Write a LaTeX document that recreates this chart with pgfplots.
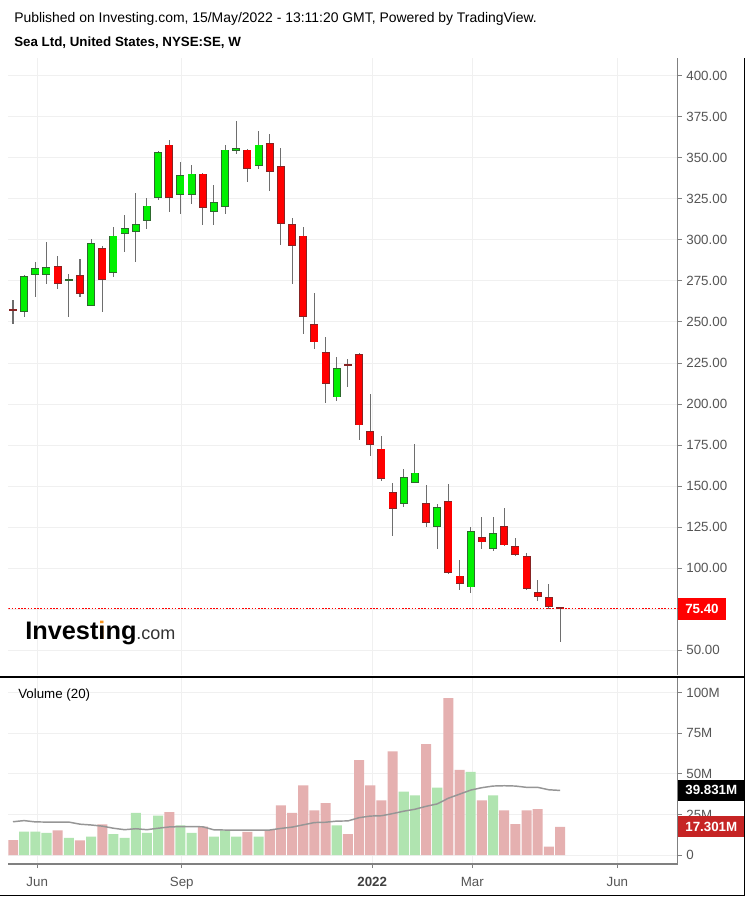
\documentclass[border=0pt]{standalone}
\usepackage{pgfplots}
\pgfplotsset{compat=1.18}
\usepackage{pgfplotstable}
\usepackage{fontspec}
\setmainfont{Liberation Sans}

\definecolor{gridc}{RGB}{240,240,240}
\definecolor{axc}{RGB}{128,128,128}
\definecolor{labc}{RGB}{85,85,85}
\definecolor{upfill}{RGB}{0,240,0}
\definecolor{upline}{RGB}{45,105,45}
\definecolor{dnfill}{RGB}{255,0,0}
\definecolor{dnline}{RGB}{135,35,35}
\definecolor{wick}{RGB}{110,110,110}
\definecolor{volup}{RGB}{176,228,176}
\definecolor{voldn}{RGB}{229,176,176}
\definecolor{mac}{RGB}{150,150,150}
\definecolor{lastred}{RGB}{198,36,36}
\definecolor{logoor}{RGB}{247,148,29}

% weekly candles: index, open, high, low, close, volume (M), volume MA(20) (M)
\pgfplotstableread{
x o h l c v ma
0 257.5 263.5 248.9 257.0 9.2 20.5
1 256.0 278.3 253.3 277.7 14.4 21.2
2 278.7 286.8 265.0 282.8 14.4 20.4
3 278.7 298.4 273.2 283.6 13.6 20.3
4 284.2 289.9 270.2 273.4 15.2 20.3
5 275.5 279.1 253.3 275.9 10.5 20.3
6 278.3 288.4 265.1 267.3 9.0 19.0
7 259.8 300.4 259.8 298.0 11.3 18.5
8 294.9 296.0 255.8 275.7 18.9 17.8
9 279.7 308.1 277.1 302.6 12.9 16.5
10 303.4 315.2 292.9 307.1 10.5 15.6
11 304.9 328.4 286.4 309.5 25.9 16.2
12 311.6 325.4 306.5 320.9 13.6 15.6
13 325.4 354.4 324.3 353.3 24.2 16.5
14 358.0 360.9 317.2 325.4 26.5 17.3
15 327.6 347.7 315.8 339.6 18.3 17.5
16 327.6 345.4 321.9 340.4 13.6 17.5
17 340.4 340.6 309.1 319.3 17.5 17.4
18 317.0 333.5 309.1 322.9 11.3 15.5
19 320.1 357.6 315.8 355.0 15.2 15.4
20 354.4 372.6 352.3 355.8 11.3 15.4
21 355.0 355.2 335.5 343.4 14.2 15.4
22 344.8 366.5 343.0 358.0 11.3 15.4
23 358.8 364.5 330.0 341.2 15.4 15.4
24 345.0 355.8 296.6 309.7 30.6 16.4
25 309.5 313.2 273.2 296.1 25.9 17.2
26 302.6 308.1 242.8 252.9 42.9 18.6
27 248.7 267.5 233.5 237.5 27.5 20.0
28 231.7 241.0 200.9 212.2 32.0 20.2
29 204.1 228.8 202.1 221.8 18.3 20.9
30 224.0 227.3 210.7 223.3 12.9 21.0
31 230.5 231.1 178.1 187.0 58.4 23.0
32 183.4 206.4 168.4 174.9 42.9 24.0
33 172.9 180.6 153.3 154.3 33.7 24.2
34 146.2 151.9 119.9 136.1 63.9 25.5
35 139.1 160.4 137.5 155.3 39.0 27.0
36 151.9 175.5 151.9 158.3 36.8 28.2
37 139.5 150.7 125.4 127.8 68.4 30.0
38 125.4 139.1 111.5 137.1 41.5 31.5
39 141.0 151.3 96.3 97.1 96.7 35.0
40 95.5 105.2 86.6 90.7 52.4 37.5
41 88.4 125.4 85.0 122.8 51.3 40.0
42 118.9 131.5 111.5 115.7 33.7 41.5
43 111.9 131.5 110.3 121.6 36.8 42.5
44 125.8 136.7 113.3 113.9 27.5 42.7
45 113.7 118.5 107.4 108.2 19.1 42.5
46 107.6 109.4 87.2 87.6 27.5 41.7
47 85.6 92.9 80.0 82.4 28.3 41.7
48 82.6 90.5 74.9 76.5 5.1 40.2
49 76.3 76.5 54.9 75.4 17.3 39.8
}\sedata

\pgfplotsset{
  chartbase/.style={
    scale only axis, width=502.05pt,
    xmin=-0.42, xmax=59.54,
    xtick={2.17,15.12,32.18,41.14,54.14},
    grid=major, grid style={draw=gridc, line width=0.75pt},
    axis x line*=bottom, axis y line*=right,
    axis line style={draw=axc, line width=0.9pt},
    tick align=outside, major tick length=3pt,
    tick style={draw=axc, line width=0.75pt},
    ticklabel style={font=\fontsize{10}{12}\selectfont, text=labc},
    /pgf/number format/assume math mode=true,
    clip mode=individual,
  },
  /pgfplots/table/upx/.style={x expr={\thisrow{c}>=\thisrow{o} ? \thisrow{x} : -100}},
  /pgfplots/table/dnx/.style={x expr={\thisrow{c}<\thisrow{o} ? \thisrow{x} : -100}},
}

\begin{document}
\begin{tikzpicture}
\path[use as bounding box, fill=white] (0,0) rectangle (564pt,-675.75pt);

\node[anchor=base west, inner sep=0pt] at (10.5pt,-16.5pt)
  {\fontsize{10.45}{12}\selectfont Published on Investing.com, 15/May/2022 - 13:11:20 GMT, Powered by TradingView.};
\node[anchor=base west, inner sep=0pt] at (10.5pt,-34.5pt)
  {\fontsize{10}{12}\selectfont\bfseries Sea Ltd, United States, NYSE:SE, W};

% ---------------- price pane ----------------
\begin{axis}[chartbase, name=price, at={(6.225pt,-43.5pt)}, anchor=north west,
  height=462.75pt, ymin=35, ymax=410.75, ytick={50,75,...,400},
  xticklabels={}, major x tick style={draw=none},
  x axis line style={draw=none},
  yticklabel style={/pgf/number format/.cd, fixed, fixed zerofill, precision=2},
]
% wicks
\addplot[draw=none, mark=none, error bars/.cd, y dir=both, y explicit, error mark=none,
  error bar style={draw=wick, line width=0.8pt}]
  table[x=x, y=c, y error plus expr=\thisrow{h}-\thisrow{c},
        y error minus expr=\thisrow{c}-\thisrow{l}] {\sedata};
% up bodies
\addplot[draw=none, mark=none, restrict x to domain=-1:60,
  error bars/.cd, y dir=both, y explicit, error mark=none,
  error bar style={draw=upline, line width=6pt}]
  table[upx, y expr={(\thisrow{o}+\thisrow{c})/2},
        y error expr={max(abs(\thisrow{c}-\thisrow{o})/2,0.55)}] {\sedata};
\addplot[draw=none, mark=none, restrict x to domain=-1:60,
  error bars/.cd, y dir=both, y explicit, error mark=none,
  error bar style={draw=upfill, line width=4.8pt}]
  table[upx, y expr={(\thisrow{o}+\thisrow{c})/2},
        y error expr={max(abs(\thisrow{c}-\thisrow{o})/2-0.5,0)}] {\sedata};
% down bodies
\addplot[draw=none, mark=none, restrict x to domain=-1:60,
  error bars/.cd, y dir=both, y explicit, error mark=none,
  error bar style={draw=dnline, line width=6pt}]
  table[dnx, y expr={(\thisrow{o}+\thisrow{c})/2},
        y error expr={max(abs(\thisrow{c}-\thisrow{o})/2,0.55)}] {\sedata};
\addplot[draw=none, mark=none, restrict x to domain=-1:60,
  error bars/.cd, y dir=both, y explicit, error mark=none,
  error bar style={draw=dnfill, line width=4.8pt}]
  table[dnx, y expr={(\thisrow{o}+\thisrow{c})/2},
        y error expr={max(abs(\thisrow{c}-\thisrow{o})/2-0.5,0)}] {\sedata};
% last price line
\addplot[dnfill, line width=0.75pt, dash pattern=on 1.2pt off 1.2pt, mark=none]
  coordinates {(-0.42,75.4) (59.54,75.4)};
\node[anchor=west, fill=dnfill, text=white, inner sep=0pt, minimum width=36pt,
  minimum height=16.3pt, font=\fontsize{10}{12}\selectfont\bfseries]
  at (axis cs:59.54,75.4) {75.40};
\end{axis}

% ---------------- volume pane ----------------
\begin{axis}[chartbase, name=vol, at={(6.225pt,-507.75pt)}, anchor=north west,
  height=140.25pt, ymin=-5.55, ymax=109.7, ytick={0,25,50,75,100},
  yticklabels={0,25M,50M,75M,100M},
  xticklabels={Jun,Sep,\textbf{\textcolor{black!75}{2022}},Mar,Jun},
  xticklabel style={yshift=-3.6pt},
]
\addplot[ybar, bar width=0.9, bar shift=0pt, fill=volup, draw=none,
  restrict x to domain=-1:60] table[upx, y=v] {\sedata};
\addplot[ybar, bar width=0.9, bar shift=0pt, fill=voldn, draw=none,
  restrict x to domain=-1:60] table[dnx, y=v] {\sedata};
\addplot[mac, line width=1.1pt, mark=none] table[x=x, y=ma] {\sedata};
\node[anchor=west, fill=black, text=white, inner sep=0pt, minimum width=50pt,
  minimum height=15.75pt, font=\fontsize{10}{12}\selectfont\bfseries]
  at (axis cs:59.54,39.831) {39.831M};
\node[anchor=west, fill=lastred, text=white, inner sep=0pt, minimum width=50pt,
  minimum height=15.75pt, font=\fontsize{10}{12}\selectfont\bfseries]
  at (axis cs:59.54,17.301) {17.301M};
\end{axis}

\node[anchor=base west, inner sep=0pt] at (13.5pt,-523.9pt)
  {\fontsize{10}{12}\selectfont Volume (20)};

% logo
\node[anchor=base west, inner sep=0pt] at (18.75pt,-479.25pt)
  {\fontsize{19}{21}\selectfont\bfseries Invest\rlap{\textcolor{logoor}{i}}ıng\fontsize{13.5}{15}\selectfont\mdseries\textcolor{black!80}{.com}};

% frame
\draw[black, line width=1.2pt] (0,-507.75pt) -- (558.4pt,-507.75pt);
\draw[black, line width=1.2pt] (558.4pt,-43.5pt) -- (558.4pt,-671.5pt);
\draw[black, line width=1.2pt] (0,-671.5pt) -- (558.4pt,-671.5pt);
\end{tikzpicture}
\end{document}
